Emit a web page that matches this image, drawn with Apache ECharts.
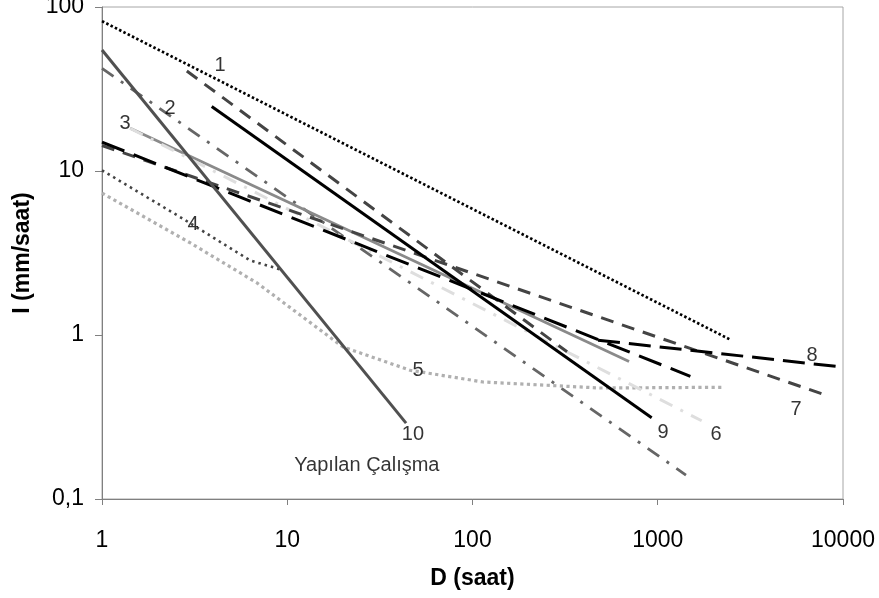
<!DOCTYPE html>
<html>
<head>
<meta charset="utf-8">
<script src="https://cdn.jsdelivr.net/npm/echarts@6/dist/echarts.min.js"></script>
<style>
html,body{margin:0;padding:0;background:#fff;}
#c{width:879px;height:598px;}
</style>
</head>
<body>
<div id="c"></div>
<script>
// Axis ticks
const xTicks = [1, 10, 100, 1000, 10000];
const yTicks = [0.1, 1, 10, 100];

// Series values [D (saat), I (mm/saat)]
const line1 = [[1, 82], [2450, 0.94]];
const line2 = [[1, 42.3], [1420, 0.14]];
const line3 = [[1.42, 18.2], [700, 0.69]];
const line4 = [[1, 10.1], [2.64, 5.24], [6.3, 2.85], [9.4, 2.49]];
const line5 = [[1, 7.34], [3, 3.64], [6.9, 2.07], [20, 0.845], [46, 0.61], [114, 0.517], [488, 0.475], [2250, 0.48]];
const line6 = [[1.42, 18.2], [1726, 0.30]];
const line7 = [[1, 14.3], [8300, 0.425]];
const line7s = [[2.87, 40.7], [324, 0.79]];
const line8a = [[1, 15], [1500, 0.56]];
const line8 = [[476, 0.93], [9640, 0.64]];
const line9 = [[3.91, 24.7], [927, 0.313]];
const line10 = [[1, 54.7], [43.8, 0.29]];

// Curve labels: text and anchor in data space
const labelTexts = ['1', '2', '3', '4', '5', '6', '7', '8', '9', '10', 'Yapılan Çalışma'];
const labelAnchors = [[4.34, 43.7], [2.33, 24.2], [1.33, 19.6], [3.1, 4.69], [50.8, 0.61], [2063, 0.249], [5575, 0.349], [6800, 0.745], [1067, 0.256], [47.7, 0.246], [26.9, 0.161]];

const FONT = "'Liberation Sans', Arial, sans-serif";

function mk(name, data, color, width, dash) {
  return {
    name: name, type: 'line', data: data, symbol: 'none', silent: true,
    lineStyle: { color: color, width: width, type: dash || 'solid', cap: 'butt' },
    z: 2
  };
}

const series = [
  mk('1', line1, '#000000', 2.7, [2.5, 2.3]),
  mk('2', line2, '#666666', 2.8, [14, 9, 3, 9]),
  mk('3', line3, '#8a8a8a', 2.8),
  mk('4', line4, '#444444', 2.6, [2.5, 4]),
  mk('5', line5, '#b0b0b0', 3.2, [3.2, 3.4]),
  mk('6', line6, '#dedede', 3, [14, 9, 3, 9]),
  mk('7', line7, '#444444', 3, [13, 9]),
  mk('7s', line7s, '#444444', 3, [13, 9]),
  mk('8a', line8a, '#000000', 3, [24, 10]),
  mk('8', line8, '#000000', 3, [22, 9]),
  mk('9', line9, '#000000', 3),
  mk('10', line10, '#505050', 3),
  {
    type: 'scatter', silent: true, symbolSize: 0, z: 5,
    data: labelTexts.map((t, i) => ({ name: t, value: labelAnchors[i] })),
    label: { show: true, position: 'inside', formatter: '{b}', color: '#000', fontSize: 20, fontFamily: FONT }
  }
];

const chart = echarts.init(document.getElementById('c'), null, { renderer: 'canvas' });
chart.setOption({
  animation: false,
  backgroundColor: '#ffffff',
  grid: { left: 102, right: 36, top: 7, bottom: 99, show: true, borderColor: '#a6a6a6', borderWidth: 1, backgroundColor: 'transparent', outerBoundsMode: 'none' },
  xAxis: {
    type: 'log', logBase: 10, min: xTicks[0], max: xTicks[xTicks.length - 1],
    name: 'D (saat)', nameLocation: 'middle', nameGap: 68,
    nameTextStyle: { fontSize: 23, fontWeight: 'bold', color: '#000', fontFamily: FONT },
    axisLine: { lineStyle: { color: '#808080', width: 1 } },
    axisTick: { show: true, inside: false, length: 6, lineStyle: { color: '#808080' } },
    axisLabel: { fontSize: 23, color: '#000', fontFamily: FONT, margin: 30, formatter: v => String(v) },
    splitLine: { show: false }, minorTick: { show: false }
  },
  yAxis: {
    type: 'log', logBase: 10, min: yTicks[0], max: yTicks[yTicks.length - 1],
    name: 'I (mm/saat)', nameLocation: 'middle', nameGap: 68, nameRotate: 90,
    nameTextStyle: { fontSize: 23, fontWeight: 'bold', color: '#000', fontFamily: FONT },
    axisLine: { lineStyle: { color: '#808080', width: 1 } },
    axisTick: { show: true, inside: false, length: 7, lineStyle: { color: '#808080' } },
    axisLabel: { fontSize: 23, color: '#000', fontFamily: FONT, margin: 18, formatter: v => String(v).replace('.', ',') },
    splitLine: { show: false }, minorTick: { show: false }
  },
  series: series
});
</script>
</body>
</html>
